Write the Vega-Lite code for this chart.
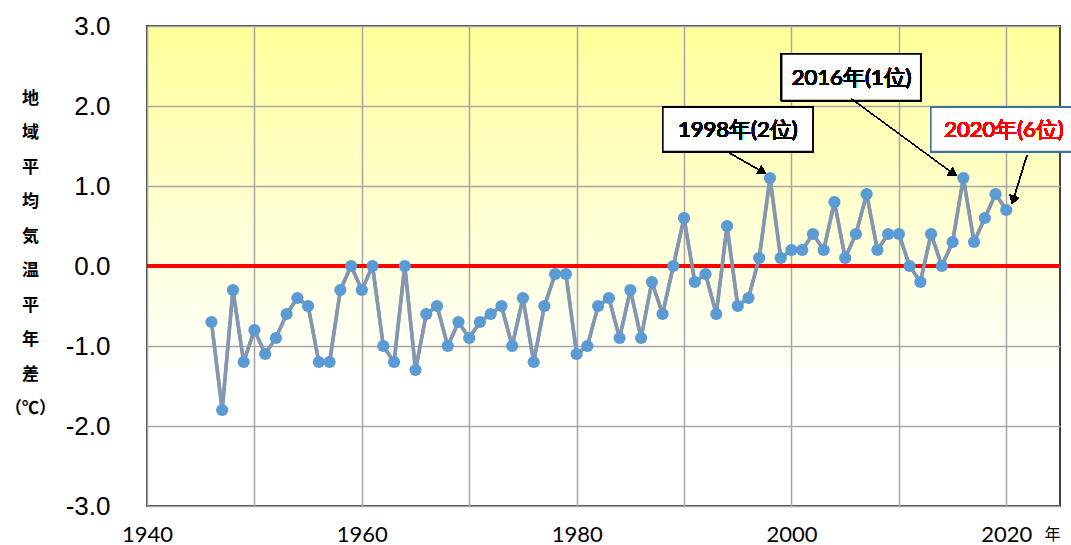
{
  "$schema": "https://vega.github.io/schema/vega-lite/v6.json",
  "width": 913,
  "height": 480,
  "autosize": "none",
  "padding": {"left": 147, "top": 26, "right": 11, "bottom": 39},
  "background": "white",
  "config": {
    "font": "Liberation Sans",
    "view": {
      "fill": {"gradient": "linear", "x1": 0, "y1": 0, "x2": 0, "y2": 1,
        "stops": [{"offset": 0, "color": "#FFFF99"}, {"offset": 0.45, "color": "#FFFFDA"}, {"offset": 0.75, "color": "#FFFFFF"}, {"offset": 1, "color": "#FFFFFF"}]},
      "stroke": "#404040",
      "strokeWidth": 2
    },
    "axis": {"grid": true, "gridColor": "#A6A6A6", "gridWidth": 1.5, "domain": false, "ticks": false, "labelColor": "#000000", "titleColor": "#000000", "labelFlush": false, "labelOverlap": false},
    "axisX": {"labelFont": "Lato", "labelFontSize": 22, "labelPadding": 18}
  },
  "datasets": {
    "temp": [
      {"year": 1946, "value": -0.7}, {"year": 1947, "value": -1.8}, {"year": 1948, "value": -0.3}, {"year": 1949, "value": -1.2},
      {"year": 1950, "value": -0.8}, {"year": 1951, "value": -1.1}, {"year": 1952, "value": -0.9}, {"year": 1953, "value": -0.6},
      {"year": 1954, "value": -0.4}, {"year": 1955, "value": -0.5}, {"year": 1956, "value": -1.2}, {"year": 1957, "value": -1.2},
      {"year": 1958, "value": -0.3}, {"year": 1959, "value": 0.0}, {"year": 1960, "value": -0.3}, {"year": 1961, "value": 0.0},
      {"year": 1962, "value": -1.0}, {"year": 1963, "value": -1.2}, {"year": 1964, "value": 0.0}, {"year": 1965, "value": -1.3},
      {"year": 1966, "value": -0.6}, {"year": 1967, "value": -0.5}, {"year": 1968, "value": -1.0}, {"year": 1969, "value": -0.7},
      {"year": 1970, "value": -0.9}, {"year": 1971, "value": -0.7}, {"year": 1972, "value": -0.6}, {"year": 1973, "value": -0.5},
      {"year": 1974, "value": -1.0}, {"year": 1975, "value": -0.4}, {"year": 1976, "value": -1.2}, {"year": 1977, "value": -0.5},
      {"year": 1978, "value": -0.1}, {"year": 1979, "value": -0.1}, {"year": 1980, "value": -1.1}, {"year": 1981, "value": -1.0},
      {"year": 1982, "value": -0.5}, {"year": 1983, "value": -0.4}, {"year": 1984, "value": -0.9}, {"year": 1985, "value": -0.3},
      {"year": 1986, "value": -0.9}, {"year": 1987, "value": -0.2}, {"year": 1988, "value": -0.6}, {"year": 1989, "value": 0.0},
      {"year": 1990, "value": 0.6}, {"year": 1991, "value": -0.2}, {"year": 1992, "value": -0.1}, {"year": 1993, "value": -0.6},
      {"year": 1994, "value": 0.5}, {"year": 1995, "value": -0.5}, {"year": 1996, "value": -0.4}, {"year": 1997, "value": 0.1},
      {"year": 1998, "value": 1.1}, {"year": 1999, "value": 0.1}, {"year": 2000, "value": 0.2}, {"year": 2001, "value": 0.2},
      {"year": 2002, "value": 0.4}, {"year": 2003, "value": 0.2}, {"year": 2004, "value": 0.8}, {"year": 2005, "value": 0.1},
      {"year": 2006, "value": 0.4}, {"year": 2007, "value": 0.9}, {"year": 2008, "value": 0.2}, {"year": 2009, "value": 0.4},
      {"year": 2010, "value": 0.4}, {"year": 2011, "value": 0.0}, {"year": 2012, "value": -0.2}, {"year": 2013, "value": 0.4},
      {"year": 2014, "value": 0.0}, {"year": 2015, "value": 0.3}, {"year": 2016, "value": 1.1}, {"year": 2017, "value": 0.3},
      {"year": 2018, "value": 0.6}, {"year": 2019, "value": 0.9}, {"year": 2020, "value": 0.7}
    ]
  },
  "data": {"name": "temp"},
  "layer": [
    {
      "mark": {"type": "line", "color": "#8497B0", "strokeWidth": 3.5},
      "encoding": {
        "x": {"field": "year", "type": "quantitative",
          "scale": {"domain": [1940, 2025], "nice": false, "zero": false},
          "axis": {"grid": true, "values": [1940, 1950, 1960, 1970, 1980, 1990, 2000, 2010, 2020],
            "labelExpr": "datum.value % 20 == 0 ? format(datum.value, 'd') : ''",
            "labelFont": "Lato", "labelFontSize": 22, "labelPadding": 18,
            "title": "年", "titleFontSize": 16, "titleFontWeight": "normal", "titleFont": "Noto Sans CJK JP",
            "titleX": 905, "titleY": 28, "titleBaseline": "middle", "titleAlign": "center"}},
        "y": {"field": "value", "type": "quantitative",
          "scale": {"domain": [-3, 3], "nice": false},
          "axis": {"grid": true, "values": [-3, -2, -1, 0, 1, 2, 3],
            "labelExpr": "replace(format(datum.value, '.1f'), '\u2212', '-')",
            "labelFontSize": 26, "labelPadding": 37,
            "title": ["地", "域", "平", "均", "気", "温", "平", "年", "差", "（℃）"],
            "titleAngle": 0, "titleX": -117, "titleY": 64, "titleAlign": "center", "titleBaseline": "top",
            "titleFontSize": 17, "titleLineHeight": 34.5, "titleFont": "Noto Sans CJK JP", "titleFontWeight": "bold"}}
      }
    },
    {
      "mark": {"type": "rule", "color": "#FF0000", "strokeWidth": 2.5},
      "encoding": {"y": {"datum": 0}}
    },
    {
      "mark": {"type": "line", "color": "#8497B0", "strokeWidth": 3.5},
      "encoding": {
        "x": {"field": "year", "type": "quantitative"},
        "y": {"field": "value", "type": "quantitative"}
      }
    },
    {
      "mark": {"type": "point", "filled": true, "shape": "circle", "color": "#5B9BD5", "size": 150, "opacity": 1},
      "encoding": {
        "x": {"field": "year", "type": "quantitative"},
        "y": {"field": "value", "type": "quantitative"}
      }
    },
    {
      "mark": {"type": "rect", "fill": "#FFFFFF", "stroke": "#000000", "strokeWidth": 1.5},
      "encoding": {"x": {"datum": 1988.03}, "x2": {"datum": 2001.99}, "y": {"datum": 1.985}, "y2": {"datum": 1.43}}
    },
    {
      "mark": {"type": "text", "text": "1998年(2位)", "font": "Lato", "fontWeight": 400, "fontSize": 22, "color": "#000000", "align": "center", "baseline": "middle"},
      "encoding": {"x": {"datum": 1995.0}, "y": {"datum": 1.70}}
    },
    {
      "mark": {"type": "rect", "fill": "#FFFFFF", "stroke": "#000000", "strokeWidth": 1.5},
      "encoding": {"x": {"datum": 1999.09}, "x2": {"datum": 2012.03}, "y": {"datum": 2.65}, "y2": {"datum": 2.07}}
    },
    {
      "mark": {"type": "text", "text": "2016年(1位)", "font": "Lato", "fontWeight": 400, "fontSize": 22, "color": "#000000", "align": "center", "baseline": "middle"},
      "encoding": {"x": {"datum": 2005.6}, "y": {"datum": 2.35}}
    },
    {
      "mark": {"type": "rect", "fill": "#FFFFFF", "stroke": "#41719C", "strokeWidth": 1.5},
      "encoding": {"x": {"datum": 2012.98}, "x2": {"datum": 2027.5}, "y": {"datum": 1.985}, "y2": {"datum": 1.43}}
    },
    {
      "mark": {"type": "text", "text": "2020年(6位)", "font": "Lato", "fontWeight": 400, "fontSize": 22, "color": "#FF0000", "align": "center", "baseline": "middle"},
      "encoding": {"x": {"datum": 2019.78}, "y": {"datum": 1.70}}
    },
    {
      "mark": {"type": "rule", "color": "#000000", "strokeWidth": 1},
      "encoding": {"x": {"datum": 1994.26}, "y": {"datum": 1.41}, "x2": {"datum": 1997.3}, "y2": {"datum": 1.177}}
    },
    {
      "mark": {"type": "point", "shape": "triangle-up", "filled": true, "color": "#000000", "size": 90, "angle": 119.6, "opacity": 1},
      "encoding": {"x": {"datum": 1997.3}, "y": {"datum": 1.177}}
    },
    {
      "mark": {"type": "rule", "color": "#000000", "strokeWidth": 1},
      "encoding": {"x": {"datum": 2005.63}, "y": {"datum": 2.085}, "x2": {"datum": 2015.07}, "y2": {"datum": 1.154}}
    },
    {
      "mark": {"type": "point", "shape": "triangle-up", "filled": true, "color": "#000000", "size": 90, "angle": 126.3, "opacity": 1},
      "encoding": {"x": {"datum": 2015.07}, "y": {"datum": 1.154}}
    },
    {
      "mark": {"type": "rule", "color": "#000000", "strokeWidth": 1},
      "encoding": {"x": {"datum": 2021.92}, "y": {"datum": 1.383}, "x2": {"datum": 2020.64}, "y2": {"datum": 0.823}}
    },
    {
      "mark": {"type": "point", "shape": "triangle-up", "filled": true, "color": "#000000", "size": 90, "angle": 197, "opacity": 1},
      "encoding": {"x": {"datum": 2020.64}, "y": {"datum": 0.823}}
    }
  ]
}
